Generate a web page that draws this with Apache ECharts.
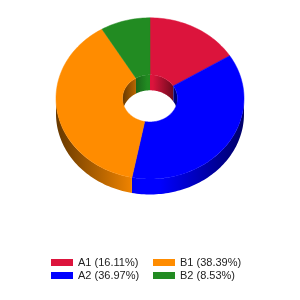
<!DOCTYPE html>
<html><head><meta charset="utf-8">
<script src="https://cdn.jsdelivr.net/npm/echarts@6/dist/echarts.min.js"></script>
<style>html,body{margin:0;padding:0;background:#fff}#c{width:300px;height:300px}</style>
</head><body><div id="c"></div>
<script>
const categories = ['A1', 'A2', 'B1', 'B2'];
const values = [16.11, 36.97, 38.39, 8.53];
const colors = ['#DC143C', '#0000FF', '#FF8C00', '#228B22'];
const legendColA = ['A1', 'A2'];
const legendColB = ['B1', 'B2'];

const total = values.reduce((a, b) => a + b, 0);
const starts = [];
let acc = 0;
values.forEach(v => { starts.push(acc); acc += v; });

const G = { cxF: 0.5, cyF: 0.328, R: 94, r: 27.5, k: 0.857, depth: 15.5 };

function shade(hex, f) {
  const n = parseInt(hex.slice(1), 16);
  const r = Math.round(((n >> 16) & 255) * f), g = Math.round(((n >> 8) & 255) * f), b = Math.round((n & 255) * f);
  return 'rgb(' + r + ',' + g + ',' + b + ')';
}
function pt(cx, cy, rad, deg, k, dy) {
  const a = deg * Math.PI / 180;
  return [cx + rad * Math.cos(a), cy - rad * Math.sin(a) * k + dy];
}
function arc(cx, cy, rad, a0, a1, k, dy) {
  const n = Math.max(2, Math.ceil(Math.abs(a1 - a0) / 1.5));
  const pts = [];
  for (let i = 0; i <= n; i++) pts.push(pt(cx, cy, rad, a0 + (a1 - a0) * i / n, k, dy));
  return pts;
}
function intersect(a, b, lo, hi) {
  const res = [];
  for (let s = -720; s <= 720; s += 360) {
    const x = Math.max(a + s, lo), y = Math.min(b + s, hi);
    if (y > x) res.push([x, y]);
  }
  return res;
}
function wallGrad(cx, rad, color) {
  return { type: 'linear', x: cx - rad, y: 0, x2: cx + rad, y2: 0, global: true,
    colorStops: [
      { offset: 0, color: shade(color, 0.4) },
      { offset: 0.45, color: color },
      { offset: 0.55, color: color },
      { offset: 1, color: shade(color, 0.4) }
    ] };
}
function renderSlice(i) {
  return function (params, api) {
    const W = api.getWidth(), H = api.getHeight();
    const cx = W * G.cxF, cy = H * G.cyF;
    const v = api.value(0);
    const hi = 90 - 360 * starts[i] / total;
    const lo = hi - 360 * v / total;
    const children = [];
    intersect(lo, hi, 0, 180).forEach(([x, y]) => {
      const top = arc(cx, cy, G.r, x, y, G.k, 0);
      const bot = arc(cx, cy, G.r, y, x, G.k, G.depth);
      children.push({ type: 'polygon', z2: 0, shape: { points: top.concat(bot) },
        style: { fill: wallGrad(cx, G.r, colors[i]) } });
    });
    intersect(lo, hi, 180, 360).forEach(([x, y]) => {
      const top = arc(cx, cy, G.R, x, y, G.k, 0);
      const bot = arc(cx, cy, G.R, y, x, G.k, G.depth);
      children.push({ type: 'polygon', z2: 1, shape: { points: top.concat(bot) },
        style: { fill: wallGrad(cx, G.R, colors[i]) } });
    });
    const outer = arc(cx, cy, G.R, hi, lo, G.k, 0);
    const inner = arc(cx, cy, G.r, lo, hi, G.k, 0);
    children.push({ type: 'polygon', z2: 2, shape: { points: outer.concat(inner) },
      style: { fill: colors[i], stroke: colors[i], lineWidth: 0.5 } });
    return { type: 'group', children };
  };
}

const legendBase = {
  orient: 'vertical', top: 256, padding: 0, itemGap: 0, itemWidth: 22, itemHeight: 7,
  icon: 'rect', selectedMode: false,
  textStyle: { fontSize: 11, lineHeight: 13, color: '#222', fontFamily: 'Liberation Sans' },
  formatter: name => {
    const idx = categories.indexOf(name);
    return name + ' (' + (values[idx] / total * 100).toFixed(2) + '%)';
  }
};

const chart = echarts.init(document.getElementById('c'), null, { renderer: 'canvas' });
chart.setOption({
  animation: false,
  legend: [
    Object.assign({}, legendBase, { left: 51, data: legendColA }),
    Object.assign({}, legendBase, { left: 153, data: legendColB })
  ],
  series: categories.map((name, i) => ({
    type: 'custom', name: name, coordinateSystem: 'none',
    itemStyle: { color: colors[i] },
    renderItem: renderSlice(i),
    data: [[values[i]]]
  }))
});
</script>
</body></html>
